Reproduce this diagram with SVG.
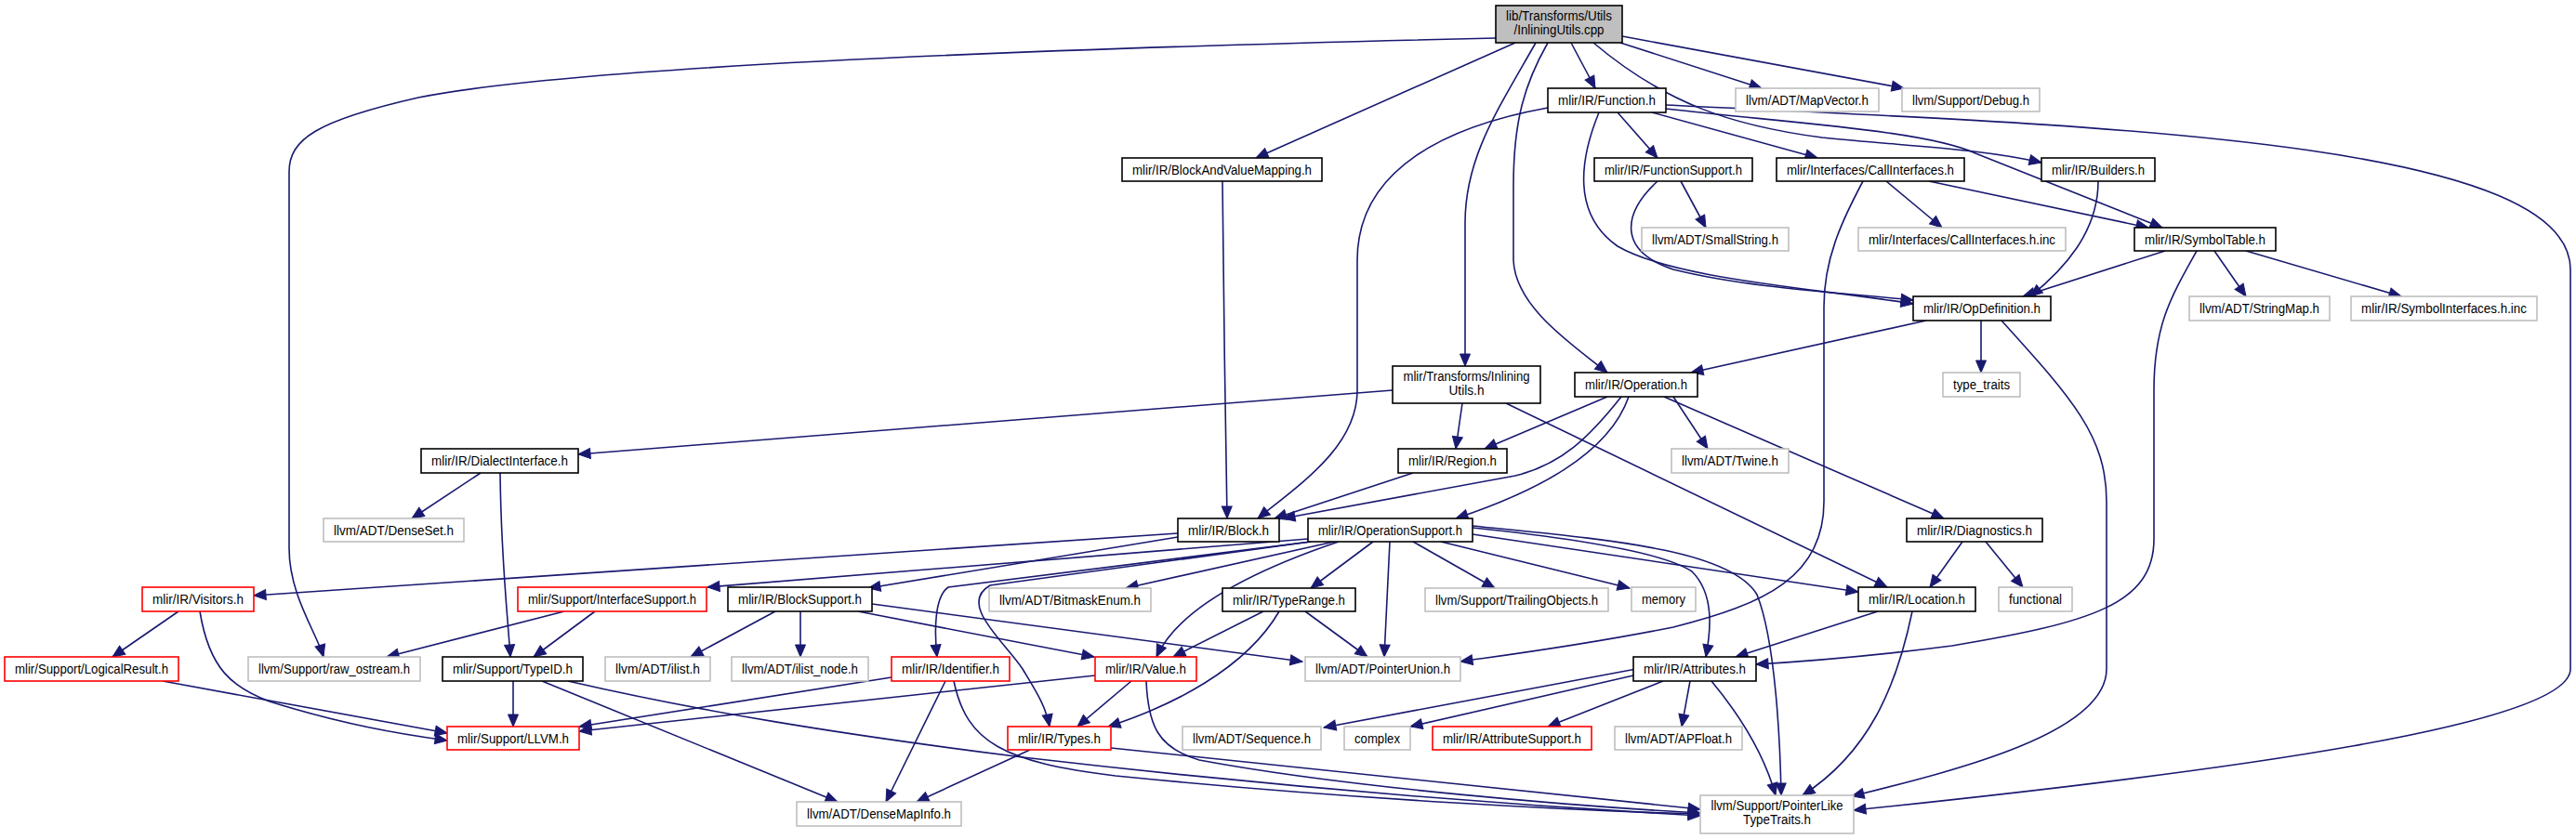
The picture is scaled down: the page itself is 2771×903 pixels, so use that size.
<svg xmlns="http://www.w3.org/2000/svg" width="2771" height="903" viewBox="0 0 2771 903">
<style>
rect{stroke-width:1.6}
.n{fill:#fff;stroke:#000}
.g{fill:#fff;stroke:#bfbfbf}
.r{fill:#fff;stroke:#ff0000}
.root{fill:#bfbfbf;stroke:#000}
text{font-family:"Liberation Sans",Arial,sans-serif;font-size:14px;fill:#000;text-anchor:middle}
#edges path{fill:none;stroke:#191970;stroke-width:1.6;marker-end:url(#a)}
</style>
<defs>
<marker id="a" markerWidth="14" markerHeight="12" refX="13" refY="5.5" orient="auto" markerUnits="userSpaceOnUse" overflow="visible"><path d="M0,0 L13,5.5 L0,11 z" fill="#191970" stroke="#191970" stroke-width="1"/></marker>
</defs>
<rect width="2771" height="903" fill="#fff"/>
<g id="edges">
<path d="M1609,41 C1000,55 600,75 450,105 C340,130 311,150 311,185 L311,590 C311,640 340,680 348,707"/>
<path d="M1630,46 L1351,170"/>
<path d="M1652,46 C1610,120 1576,170 1576,240 L1576,394"/>
<path d="M1665,46 C1640,90 1628,130 1628,200 L1628,280 C1630,330 1690,370 1729,401"/>
<path d="M1690,46 L1716,95"/>
<path d="M1714,46 C1790,110 1860,135 1960,148 C2060,158 2130,160 2196,175"/>
<path d="M1743,46 L1895,95"/>
<path d="M1745,39 L2048,95"/>
<path d="M1315,195 C1316,300 1318,450 1320,558"/>
<path d="M1665,116 C1560,135 1460,180 1460,280 L1460,420 C1460,480 1400,520 1353,558"/>
<path d="M1720,121 C1700,170 1690,230 1740,265 C1800,300 1950,310 2058,327"/>
<path d="M1740,121 L1783,170"/>
<path d="M1777,121 L1955,170"/>
<path d="M1792,117 C1920,132 2070,140 2125,165 L2326,245"/>
<path d="M1792,113 C2250,135 2765,150 2765,290 L2765,720 C2765,780 2400,830 1994,872"/>
<path d="M1808,195 L1835,245"/>
<path d="M1783,195 C1745,230 1740,270 1800,290 C1880,310 1980,315 2058,323"/>
<path d="M2029,195 L2089,245"/>
<path d="M2075,195 L2311,245"/>
<path d="M2004,195 C1980,240 1962,280 1962,330 L1962,540 C1962,620 1900,650 1800,675 C1700,695 1620,705 1571,712"/>
<path d="M2257,195 C2257,250 2220,290 2184,319"/>
<path d="M2329,270 L2176,319"/>
<path d="M2382,270 L2416,319"/>
<path d="M2416,270 L2583,319"/>
<path d="M2363,270 C2335,320 2317,350 2317,420 L2317,580 C2317,650 2250,670 2100,695 C2000,708 1940,712 1889,715"/>
<path d="M2072,345 L1819,401"/>
<path d="M2131,345 L2131,401"/>
<path d="M2153,345 C2230,430 2266,470 2266,540 L2266,720 C2266,790 2100,830 1992,857"/>
<path d="M1800,427 L1837,483"/>
<path d="M1790,427 L2091,558"/>
<path d="M1729,427 L1597,483"/>
<path d="M1744,427 C1710,470 1680,500 1630,512 L1380,558"/>
<path d="M1752,427 C1730,490 1650,530 1566,558"/>
<path d="M1498,420 L622,489"/>
<path d="M1573,434 L1566,483"/>
<path d="M1620,434 L2030,632"/>
<path d="M1520,509 L1371,558"/>
<path d="M1267,574 L273,641"/>
<path d="M1267,578 L934,633"/>
<path d="M1407,580 L761,632"/>
<path d="M1410,583 L1020,632 C1005,642 1005,680 1008,707"/>
<path d="M1410,583 L1065,630 C1030,650 1080,690 1100,720 C1115,745 1125,760 1129,782"/>
<path d="M1435,583 L1211,633"/>
<path d="M1440,583 C1360,610 1270,650 1244,707"/>
<path d="M1477,583 L1410,633"/>
<path d="M1495,583 L1489,707"/>
<path d="M1520,583 L1608,633"/>
<path d="M1550,583 L1753,633"/>
<path d="M1584,575 L1999,637"/>
<path d="M1584,568 C1700,580 1790,595 1820,615 C1845,640 1840,680 1835,707"/>
<path d="M1584,566 C1720,580 1860,590 1890,640 C1910,690 1915,800 1916,856"/>
<path d="M1359,658 L1262,707"/>
<path d="M1376,658 C1340,720 1260,760 1192,782"/>
<path d="M1404,658 L1471,707"/>
<path d="M834,658 L743,707"/>
<path d="M861,658 L861,707"/>
<path d="M923,658 L1177,707"/>
<path d="M938,650 L1401,712"/>
<path d="M607,658 L416,707"/>
<path d="M640,658 L574,707"/>
<path d="M192,658 L121,707"/>
<path d="M215,658 C225,720 250,740 290,755 C370,780 430,790 481,797"/>
<path d="M175,733 L481,789"/>
<path d="M552,733 L552,782"/>
<path d="M583,733 L901,863"/>
<path d="M611,733 C750,765 900,790 1100,815 C1400,850 1650,868 1829,878"/>
<path d="M1178,727 L623,787"/>
<path d="M1217,733 L1159,782"/>
<path d="M1233,733 C1235,780 1245,805 1290,818 C1450,848 1700,868 1829,875"/>
<path d="M959,729 L623,782"/>
<path d="M1017,733 L953,863"/>
<path d="M1026,733 C1040,800 1080,820 1200,835 C1450,860 1700,873 1829,876"/>
<path d="M1108,807 L986,863"/>
<path d="M1195,805 L1829,871"/>
<path d="M517,509 L443,558"/>
<path d="M538,509 C539,600 545,650 549,707"/>
<path d="M2111,583 L2076,632"/>
<path d="M2136,583 L2176,632"/>
<path d="M2020,658 L1867,707"/>
<path d="M2057,658 C2040,740 2010,810 1939,856"/>
<path d="M1818,733 L1809,782"/>
<path d="M1841,733 C1880,780 1900,820 1910,856"/>
<path d="M1789,733 L1665,782"/>
<path d="M1757,727 L1517,782"/>
<path d="M1760,720 L1424,783"/>
</g>
<g id="n_root"><rect class="root" x="1609" y="6" width="136" height="40"/><text x="1677" y="22" textLength="114" lengthAdjust="spacingAndGlyphs">lib/Transforms/Utils</text><text x="1677" y="37" textLength="97" lengthAdjust="spacingAndGlyphs">/InliningUtils.cpp</text></g>
<g id="n_function"><rect class="n" x="1665" y="95" width="127" height="26"/><text x="1728.5" y="113" textLength="105" lengthAdjust="spacingAndGlyphs">mlir/IR/Function.h</text></g>
<g id="n_mapvector"><rect class="g" x="1867" y="95" width="154" height="25"/><text x="1944" y="112.5" textLength="132" lengthAdjust="spacingAndGlyphs">llvm/ADT/MapVector.h</text></g>
<g id="n_debug"><rect class="g" x="2046" y="95" width="148" height="25"/><text x="2120" y="112.5" textLength="126" lengthAdjust="spacingAndGlyphs">llvm/Support/Debug.h</text></g>
<g id="n_bavm"><rect class="n" x="1207" y="170" width="215" height="25"/><text x="1314.5" y="187.5" textLength="193" lengthAdjust="spacingAndGlyphs">mlir/IR/BlockAndValueMapping.h</text></g>
<g id="n_funcsupport"><rect class="n" x="1715" y="170" width="170" height="25"/><text x="1800" y="187.5" textLength="148" lengthAdjust="spacingAndGlyphs">mlir/IR/FunctionSupport.h</text></g>
<g id="n_callif"><rect class="n" x="1911" y="170" width="202" height="25"/><text x="2012" y="187.5" textLength="180" lengthAdjust="spacingAndGlyphs">mlir/Interfaces/CallInterfaces.h</text></g>
<g id="n_builders"><rect class="n" x="2196" y="170" width="122" height="25"/><text x="2257" y="187.5" textLength="100" lengthAdjust="spacingAndGlyphs">mlir/IR/Builders.h</text></g>
<g id="n_smallstring"><rect class="g" x="1766" y="245" width="158" height="25"/><text x="1845" y="262.5" textLength="136" lengthAdjust="spacingAndGlyphs">llvm/ADT/SmallString.h</text></g>
<g id="n_callifinc"><rect class="g" x="1999" y="245" width="223" height="25"/><text x="2110.5" y="262.5" textLength="201" lengthAdjust="spacingAndGlyphs">mlir/Interfaces/CallInterfaces.h.inc</text></g>
<g id="n_symboltable"><rect class="n" x="2296" y="245" width="152" height="25"/><text x="2372" y="262.5" textLength="130" lengthAdjust="spacingAndGlyphs">mlir/IR/SymbolTable.h</text></g>
<g id="n_opdef"><rect class="n" x="2058" y="319" width="148" height="26"/><text x="2132" y="337" textLength="126" lengthAdjust="spacingAndGlyphs">mlir/IR/OpDefinition.h</text></g>
<g id="n_stringmap"><rect class="g" x="2355" y="319" width="151" height="26"/><text x="2430.5" y="337" textLength="129" lengthAdjust="spacingAndGlyphs">llvm/ADT/StringMap.h</text></g>
<g id="n_symifinc"><rect class="g" x="2529" y="319" width="200" height="26"/><text x="2629" y="337" textLength="178" lengthAdjust="spacingAndGlyphs">mlir/IR/SymbolInterfaces.h.inc</text></g>
<g id="n_inlutils"><rect class="n" x="1498" y="394" width="159" height="40"/><text x="1577.5" y="410" textLength="136" lengthAdjust="spacingAndGlyphs">mlir/Transforms/Inlining</text><text x="1577.5" y="425" textLength="38" lengthAdjust="spacingAndGlyphs">Utils.h</text></g>
<g id="n_operation"><rect class="n" x="1694" y="401" width="132" height="26"/><text x="1760" y="419" textLength="110" lengthAdjust="spacingAndGlyphs">mlir/IR/Operation.h</text></g>
<g id="n_typetraits"><rect class="g" x="2090" y="401" width="83" height="26"/><text x="2131.5" y="419" textLength="61" lengthAdjust="spacingAndGlyphs">type_traits</text></g>
<g id="n_dialectif"><rect class="n" x="453" y="483" width="169" height="26"/><text x="537.5" y="501" textLength="147" lengthAdjust="spacingAndGlyphs">mlir/IR/DialectInterface.h</text></g>
<g id="n_region"><rect class="n" x="1504" y="483" width="117" height="26"/><text x="1562.5" y="501" textLength="95" lengthAdjust="spacingAndGlyphs">mlir/IR/Region.h</text></g>
<g id="n_twine"><rect class="g" x="1798" y="483" width="126" height="26"/><text x="1861" y="501" textLength="104" lengthAdjust="spacingAndGlyphs">llvm/ADT/Twine.h</text></g>
<g id="n_denseset"><rect class="g" x="348" y="558" width="151" height="25"/><text x="423.5" y="575.5" textLength="129" lengthAdjust="spacingAndGlyphs">llvm/ADT/DenseSet.h</text></g>
<g id="n_block"><rect class="n" x="1267" y="558" width="109" height="25"/><text x="1321.5" y="575.5" textLength="87" lengthAdjust="spacingAndGlyphs">mlir/IR/Block.h</text></g>
<g id="n_opsupport"><rect class="n" x="1407" y="558" width="177" height="25"/><text x="1495.5" y="575.5" textLength="155" lengthAdjust="spacingAndGlyphs">mlir/IR/OperationSupport.h</text></g>
<g id="n_diagnostics"><rect class="n" x="2051" y="558" width="146" height="25"/><text x="2124" y="575.5" textLength="124" lengthAdjust="spacingAndGlyphs">mlir/IR/Diagnostics.h</text></g>
<g id="n_visitors"><rect class="r" x="153" y="632" width="120" height="26"/><text x="213" y="650" textLength="98" lengthAdjust="spacingAndGlyphs">mlir/IR/Visitors.h</text></g>
<g id="n_ifsupport"><rect class="r" x="557" y="632" width="203" height="26"/><text x="658.5" y="650" textLength="181" lengthAdjust="spacingAndGlyphs">mlir/Support/InterfaceSupport.h</text></g>
<g id="n_blocksupport"><rect class="n" x="783" y="632" width="155" height="26"/><text x="860.5" y="650" textLength="133" lengthAdjust="spacingAndGlyphs">mlir/IR/BlockSupport.h</text></g>
<g id="n_bitmask"><rect class="g" x="1064" y="633" width="174" height="25"/><text x="1151" y="650.5" textLength="152" lengthAdjust="spacingAndGlyphs">llvm/ADT/BitmaskEnum.h</text></g>
<g id="n_typerange"><rect class="n" x="1315" y="633" width="143" height="25"/><text x="1386.5" y="650.5" textLength="121" lengthAdjust="spacingAndGlyphs">mlir/IR/TypeRange.h</text></g>
<g id="n_trailing"><rect class="g" x="1533" y="633" width="197" height="25"/><text x="1631.5" y="650.5" textLength="175" lengthAdjust="spacingAndGlyphs">llvm/Support/TrailingObjects.h</text></g>
<g id="n_memory"><rect class="g" x="1755" y="632" width="69" height="26"/><text x="1789.5" y="650" textLength="47" lengthAdjust="spacingAndGlyphs">memory</text></g>
<g id="n_location"><rect class="n" x="1999" y="632" width="126" height="26"/><text x="2062" y="650" textLength="104" lengthAdjust="spacingAndGlyphs">mlir/IR/Location.h</text></g>
<g id="n_functional"><rect class="g" x="2150" y="632" width="79" height="26"/><text x="2189.5" y="650" textLength="57" lengthAdjust="spacingAndGlyphs">functional</text></g>
<g id="n_logicalresult"><rect class="r" x="5" y="707" width="187" height="26"/><text x="98.5" y="725" textLength="165" lengthAdjust="spacingAndGlyphs">mlir/Support/LogicalResult.h</text></g>
<g id="n_rawostream"><rect class="g" x="267" y="707" width="185" height="26"/><text x="359.5" y="725" textLength="163" lengthAdjust="spacingAndGlyphs">llvm/Support/raw_ostream.h</text></g>
<g id="n_typeid"><rect class="n" x="476" y="707" width="151" height="26"/><text x="551.5" y="725" textLength="129" lengthAdjust="spacingAndGlyphs">mlir/Support/TypeID.h</text></g>
<g id="n_ilist"><rect class="g" x="651" y="707" width="113" height="26"/><text x="707.5" y="725" textLength="91" lengthAdjust="spacingAndGlyphs">llvm/ADT/ilist.h</text></g>
<g id="n_ilistnode"><rect class="g" x="787" y="707" width="147" height="26"/><text x="860.5" y="725" textLength="125" lengthAdjust="spacingAndGlyphs">llvm/ADT/ilist_node.h</text></g>
<g id="n_identifier"><rect class="r" x="959" y="707" width="127" height="26"/><text x="1022.5" y="725" textLength="105" lengthAdjust="spacingAndGlyphs">mlir/IR/Identifier.h</text></g>
<g id="n_value"><rect class="r" x="1178" y="707" width="109" height="26"/><text x="1232.5" y="725" textLength="87" lengthAdjust="spacingAndGlyphs">mlir/IR/Value.h</text></g>
<g id="n_pointerunion"><rect class="g" x="1404" y="707" width="167" height="26"/><text x="1487.5" y="725" textLength="145" lengthAdjust="spacingAndGlyphs">llvm/ADT/PointerUnion.h</text></g>
<g id="n_attributes"><rect class="n" x="1757" y="707" width="132" height="26"/><text x="1823" y="725" textLength="110" lengthAdjust="spacingAndGlyphs">mlir/IR/Attributes.h</text></g>
<g id="n_llvm"><rect class="r" x="481" y="782" width="142" height="25"/><text x="552" y="799.5" textLength="120" lengthAdjust="spacingAndGlyphs">mlir/Support/LLVM.h</text></g>
<g id="n_types"><rect class="r" x="1084" y="782" width="111" height="25"/><text x="1139.5" y="799.5" textLength="89" lengthAdjust="spacingAndGlyphs">mlir/IR/Types.h</text></g>
<g id="n_sequence"><rect class="g" x="1272" y="782" width="149" height="25"/><text x="1346.5" y="799.5" textLength="127" lengthAdjust="spacingAndGlyphs">llvm/ADT/Sequence.h</text></g>
<g id="n_complex"><rect class="g" x="1446" y="782" width="71" height="25"/><text x="1481.5" y="799.5" textLength="49" lengthAdjust="spacingAndGlyphs">complex</text></g>
<g id="n_attrsupport"><rect class="r" x="1541" y="782" width="171" height="25"/><text x="1626.5" y="799.5" textLength="149" lengthAdjust="spacingAndGlyphs">mlir/IR/AttributeSupport.h</text></g>
<g id="n_apfloat"><rect class="g" x="1737" y="782" width="137" height="25"/><text x="1805.5" y="799.5" textLength="115" lengthAdjust="spacingAndGlyphs">llvm/ADT/APFloat.h</text></g>
<g id="n_pointerlike"><rect class="g" x="1829" y="856" width="165" height="41"/><text x="1911.5" y="872" textLength="142" lengthAdjust="spacingAndGlyphs">llvm/Support/PointerLike</text><text x="1911.5" y="887" textLength="73" lengthAdjust="spacingAndGlyphs">TypeTraits.h</text></g>
<g id="n_densemapinfo"><rect class="g" x="857" y="863" width="177" height="26"/><text x="945.5" y="881" textLength="155" lengthAdjust="spacingAndGlyphs">llvm/ADT/DenseMapInfo.h</text></g>
</svg>
